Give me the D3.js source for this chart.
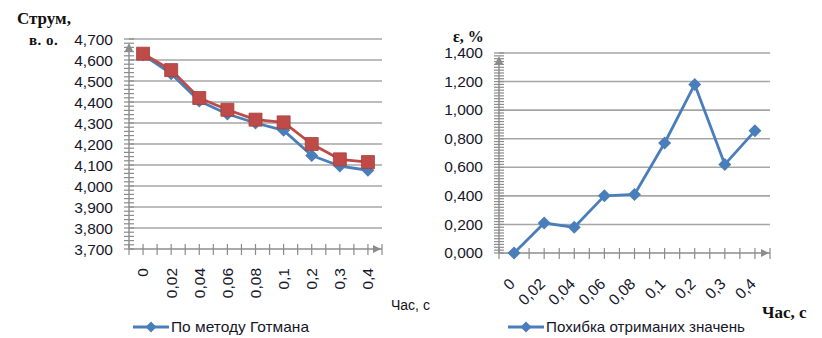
<!DOCTYPE html>
<html>
<head>
<meta charset="utf-8">
<script src="https://cdn.jsdelivr.net/npm/d3@7"></script>
<style>
  html, body { margin: 0; padding: 0; background: #fff; }
  svg { display: block; }
</style>
</head>
<body>
<svg id="chart" width="822" height="338"></svg>
<script>
// Time points shared by both panels
const categories = ["0", "0,02", "0,04", "0,06", "0,08", "0,1", "0,2", "0,3", "0,4"];

// Current, relative units (left panel)
const gotmanCurrent = [4.625, 4.535, 4.405, 4.343, 4.300, 4.265, 4.145, 4.095, 4.075];
const refCurrent    = [4.630, 4.552, 4.419, 4.363, 4.316, 4.303, 4.200, 4.127, 4.114];

// Relative error, % (right panel)
const errorPct = [0.000, 0.210, 0.180, 0.400, 0.410, 0.770, 1.180, 0.620, 0.855];

// Axis tick values
const currentTicks = [3.7, 3.8, 3.9, 4.0, 4.1, 4.2, 4.3, 4.4, 4.5, 4.6, 4.7];
const errorTicks   = [0, 0.2, 0.4, 0.6, 0.8, 1.0, 1.2, 1.4];

// Legend entries
const leftLegend  = "По методу Готмана";
const rightLegend = "Похибка отриманих значень";

const BLUE = "#4a7ebb";
const RED = "#be4b48";
const GRID = "#a6a6a6";
const AXIS = "#8c8c8c";
const TEXT = "#16162a";
const TICK_FONT = "'Liberation Sans', Arial, sans-serif";
const SERIF = "'Liberation Serif', 'Times New Roman', serif";

const svg = d3.select("#chart");
const fmt = v => d3.format(".3f")(v).replace(".", ",");

function panel(opts) {
  const g = svg.append("g");
  const x = d3.scaleBand().domain(categories).range([opts.x0, opts.x1]).padding(0);
  const y = d3.scaleLinear().domain(opts.domain).range([opts.y0, opts.y1]);

  // horizontal gridlines
  g.append("g").selectAll("line").data(opts.ticks.slice(1)).join("line")
    .attr("x1", opts.x0).attr("x2", opts.x1)
    .attr("y1", d => y(d)).attr("y2", d => y(d))
    .attr("stroke", GRID).attr("stroke-width", 1.6);

  // y axis labels
  const yAxis = d3.axisLeft(y).tickValues(opts.ticks).tickFormat(fmt).tickSize(0).tickPadding(0);
  const ya = g.append("g").attr("transform", `translate(${opts.labelX},0)`).call(yAxis);
  ya.select(".domain").remove();
  ya.selectAll("text")
    .attr("font-family", TICK_FONT).attr("font-size", 15.5).attr("fill", TEXT)
    .attr("dy", opts.labelDy);

  // axis lines
  g.append("line").attr("x1", opts.x0).attr("x2", opts.x0)
    .attr("y1", opts.y0).attr("y2", opts.arrowTop)
    .attr("stroke", AXIS).attr("stroke-width", 1.4);
  g.append("line").attr("x1", opts.x0).attr("x2", opts.x1)
    .attr("y1", opts.y0).attr("y2", opts.y0)
    .attr("stroke", AXIS).attr("stroke-width", 1.4);

  // minor ticks on y axis
  const minor = d3.range(opts.domain[0], opts.domain[1] + 1e-9, opts.minorStep);
  g.append("g").selectAll("line").data(minor).join("line")
    .attr("x1", opts.x0 - 5).attr("x2", opts.x0 + 5)
    .attr("y1", d => y(d)).attr("y2", d => y(d))
    .attr("stroke", AXIS).attr("stroke-width", 1.2);

  // ticks on x axis every half band
  const bw = x.bandwidth();
  const xt = d3.range(0, categories.length * 2 + 1).map(i => opts.x0 + i * bw / 2);
  g.append("g").selectAll("line").data(xt).join("line")
    .attr("x1", d => d).attr("x2", d => d)
    .attr("y1", opts.y0 - 5).attr("y2", opts.y0 + 6)
    .attr("stroke", AXIS).attr("stroke-width", 1.2);

  // arrow heads
  const ax = opts.x0, ay = opts.arrowTop;
  g.append("path").attr("d", `M${ax - 4},${ay + 6} L${ax},${ay - 2} L${ax + 4},${ay + 6} Z`).attr("fill", AXIS);
  const rx = opts.x1 - 1, ry = opts.y0;
  g.append("path").attr("d", `M${rx - 8},${ry - 4} L${rx},${ry} L${rx - 8},${ry + 4} Z`).attr("fill", AXIS);

  // category labels
  g.append("g").selectAll("text").data(categories).join("text")
    .attr("transform", d => `translate(${x(d) + bw / 2 + opts.catDx},${opts.catY}) rotate(${opts.catRot})`)
    .attr("text-anchor", "end").attr("dy", "0.35em")
    .attr("font-family", TICK_FONT).attr("font-size", 15.5).attr("fill", TEXT)
    .text(d => d);

  return { g, x, y, bw };
}

function series(p, values, color, marker) {
  const line = d3.line().x((d, i) => p.x(categories[i]) + p.bw / 2).y(d => p.y(d));
  p.g.append("path").datum(values).attr("d", line)
    .attr("fill", "none").attr("stroke", color).attr("stroke-width", 2.8)
    .attr("stroke-linejoin", "round");
  const pts = p.g.append("g").selectAll("path").data(values).join("path")
    .attr("transform", (d, i) => `translate(${p.x(categories[i]) + p.bw / 2},${p.y(d)})`)
    .attr("fill", color);
  if (marker === "square") {
    pts.attr("d", "M-6.5,-6.5 H6.5 V6.5 H-6.5 Z").attr("stroke", "#a5403d").attr("stroke-width", 0.8);
  } else {
    pts.attr("d", "M0,-6.5 L6.5,0 L0,6.5 L-6.5,0 Z");
  }
}

function legend(x, y, text, textLen) {
  const g = svg.append("g");
  g.append("line").attr("x1", x).attr("x2", x + 36).attr("y1", y).attr("y2", y)
    .attr("stroke", BLUE).attr("stroke-width", 2.8);
  g.append("path").attr("d", "M0,-5.5 L5.5,0 L0,5.5 L-5.5,0 Z")
    .attr("transform", `translate(${x + 18},${y})`).attr("fill", BLUE);
  g.append("text").attr("x", x + 38).attr("y", y).attr("dy", "0.35em")
    .attr("font-family", TICK_FONT).attr("font-size", 15).attr("fill", TEXT)
    .attr("textLength", textLen).attr("lengthAdjust", "spacingAndGlyphs")
    .text(text);
}

// Left panel: current
const left = panel({
  x0: 129, x1: 382, y0: 249, y1: 39, domain: [3.7, 4.7],
  ticks: currentTicks, minorStep: 0.02, labelX: 113, labelDy: "0.35em",
  arrowTop: 45, catDx: 0, catY: 268, catRot: -90
});
series(left, gotmanCurrent, BLUE, "diamond");
series(left, refCurrent, RED, "square");

// Right panel: error
const right = panel({
  x0: 499, x1: 770, y0: 253, y1: 53, domain: [0, 1.4],
  ticks: errorTicks, minorStep: 0.02, labelX: 483, labelDy: "0.3em",
  arrowTop: 58, catDx: -2, catY: 281, catRot: -45
});
series(right, errorPct, BLUE, "diamond");

// Axis titles
svg.append("text").attr("x", 17).attr("y", 24)
  .attr("font-family", SERIF).attr("font-weight", "bold").attr("font-size", 17).attr("fill", "#111")
  .text("Струм,");
svg.append("text").attr("x", 29).attr("y", 45)
  .attr("font-family", SERIF).attr("font-weight", "bold").attr("font-size", 15).attr("fill", "#111")
  .attr("letter-spacing", 0.5)
  .text("в. о.");
svg.append("text").attr("x", 391).attr("y", 310)
  .attr("font-family", TICK_FONT).attr("font-size", 14).attr("fill", "#111")
  .text("Час, с");
svg.append("text").attr("x", 453).attr("y", 42)
  .attr("font-family", SERIF).attr("font-weight", "bold").attr("font-size", 16).attr("fill", "#111")
  .text("ε, %");
svg.append("text").attr("x", 762).attr("y", 318)
  .attr("font-family", SERIF).attr("font-weight", "bold").attr("font-size", 17).attr("fill", "#111")
  .text("Час, с");

legend(133, 327, leftLegend, 138);
legend(508, 327, rightLegend, 199);
</script>
</body>
</html>
